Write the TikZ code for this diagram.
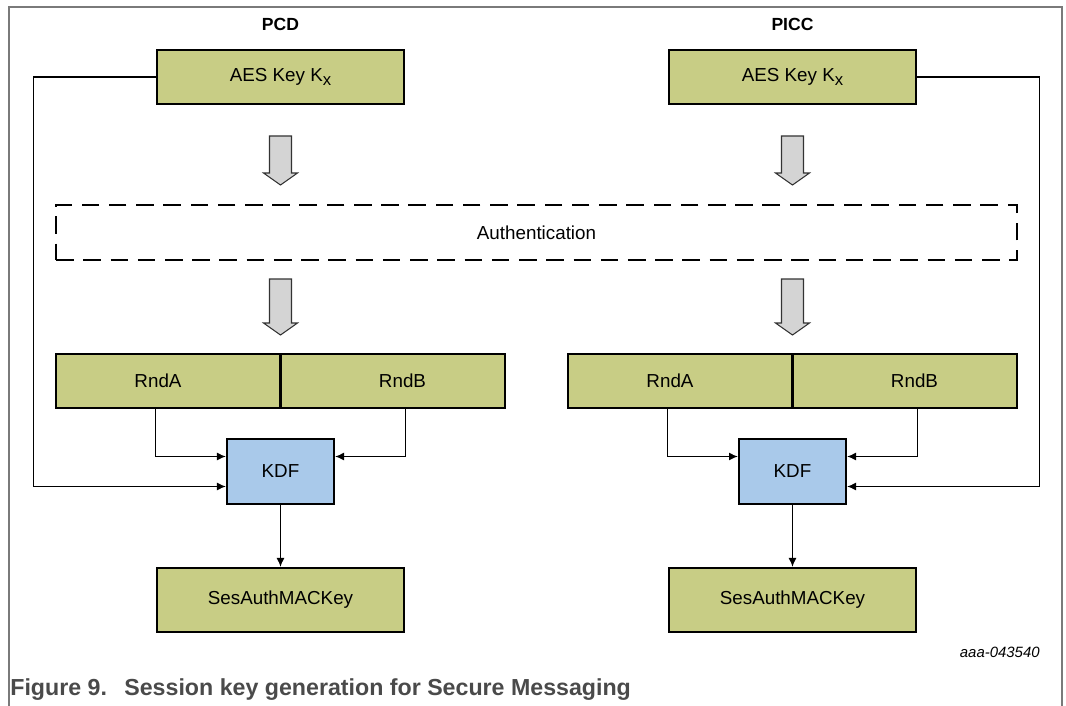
\documentclass[tikz,border=0pt]{standalone}
\usepackage{fontspec}
\setmainfont{Liberation Sans}
\usetikzlibrary{arrows.meta}

\definecolor{keygreen}{HTML}{C8CD85}
\definecolor{kdfblue}{HTML}{A9C9EA}
\definecolor{blockgray}{HTML}{D4D4D4}
\definecolor{framegray}{HTML}{7A7A7A}
\definecolor{captiongray}{HTML}{4A4A4A}

\newcommand{\keyx}{K\raisebox{-0.45ex}{\fontsize{9.5}{10}\selectfont x}}

\begin{document}
\begin{tikzpicture}[
		x=0.02cm, y=-0.02cm,
		boxfont/.style={font=\fontsize{10.7}{12}\selectfont},
		box/.style={rectangle,draw,line width=1.4pt,inner sep=0pt,boxfont},
		keybox/.style={box,fill=keygreen,minimum width=4.94cm,minimum height=1.08cm},
		cell/.style={box,fill=keygreen,minimum width=4.49cm,minimum height=1.08cm},
		rnda/.style={cell,label={[xshift=-0.2cm,boxfont]center:RndA}},
		rndb/.style={cell,label={[xshift=0.2cm,boxfont]center:RndB}},
		kdfbox/.style={box,fill=kdfblue,minimum width=2.14cm,minimum height=1.3cm},
		sesbox/.style={keybox,minimum height=1.28cm},
		side/.style={font=\bfseries\fontsize{10}{12}\selectfont},
		link/.style={line width=0.6pt,-{Latex[length=5pt,width=4.5pt]}},
		blockarrow/.style={fill=blockgray,draw=black!80,line width=0.6pt}]
		\useasboundingbox (0,0) rectangle (1066,706);
		\draw[framegray,line width=0.7pt] (9,706) -- (9,7) -- (1062,7) -- (1062,706);

		\node[side] (pcd) at (280.5,24) {PCD};
		\node[side] (picc) at (792.5,24) {PICC};

		\node[keybox] (aesL) at (280.5,77) {AES Key \keyx};
		\node[keybox] (aesR) at (792.5,77) {AES Key \keyx};

		\node[box,dash pattern=on 10pt off 5.5pt,minimum width=19.22cm,minimum height=1.1cm] (auth) at (536.5,232.5) {Authentication};

		% grey block arrows above and below the authentication
		\foreach \cx in {280.5,792.5}
			\foreach \ty/\by in {136/173,279/323}
				\draw[blockarrow] (\cx-11,\ty) -- (\cx+11,\ty) -- (\cx+11,\by) -- (\cx+17,\by)
					-- (\cx,\by+12) -- (\cx-17,\by) -- (\cx-11,\by) -- cycle;

		\node[rnda] (rndAL) at (168,381) {};
		\node[rndb] (rndBL) at (392.5,381) {};
		\node[rnda] (rndAR) at (680,381) {};
		\node[rndb] (rndBR) at (904.5,381) {};

		\node[kdfbox] (kdfL) at (280.5,471.5) {KDF};
		\node[kdfbox] (kdfR) at (792.5,471.5) {KDF};

		\node[sesbox] (sesL) at (280.5,600) {SesAuthMACKey};
		\node[sesbox] (sesR) at (792.5,600) {SesAuthMACKey};

		\draw[link] (rndAL.south -| aesL.west) |- ([yshift=0.3cm]kdfL.west);
		\draw[link] (rndBL.south -| aesL.east) |- ([yshift=0.3cm]kdfL.east);
		\draw[link] (aesL.west) -- ++(-2.44cm,0) |- ([yshift=-0.3cm]kdfL.west); % key goes round the outside
		\draw[link] (kdfL) -- (sesL);

		\draw[link] (rndAR.south -| aesR.west) |- ([yshift=0.3cm]kdfR.west);
		\draw[link] (rndBR.south -| aesR.east) |- ([yshift=0.3cm]kdfR.east);
		\draw[link] (aesR.east) -- ++(2.44cm,0) |- ([yshift=-0.3cm]kdfR.east); % key goes round the outside
		\draw[link] (kdfR) -- (sesR);

		\node[anchor=base east,inner sep=0pt,font=\itshape\fontsize{8.5}{10}\selectfont] (id) at (1040,657) {aaa-043540};
		\node[anchor=base west,inner sep=0pt,text=captiongray,font=\bfseries\fontsize{13.2}{15}\selectfont] (cap) at (10,695)
			{Figure 9.\hspace{0.75em}Session key generation for Secure Messaging};
\end{tikzpicture}
\end{document}
